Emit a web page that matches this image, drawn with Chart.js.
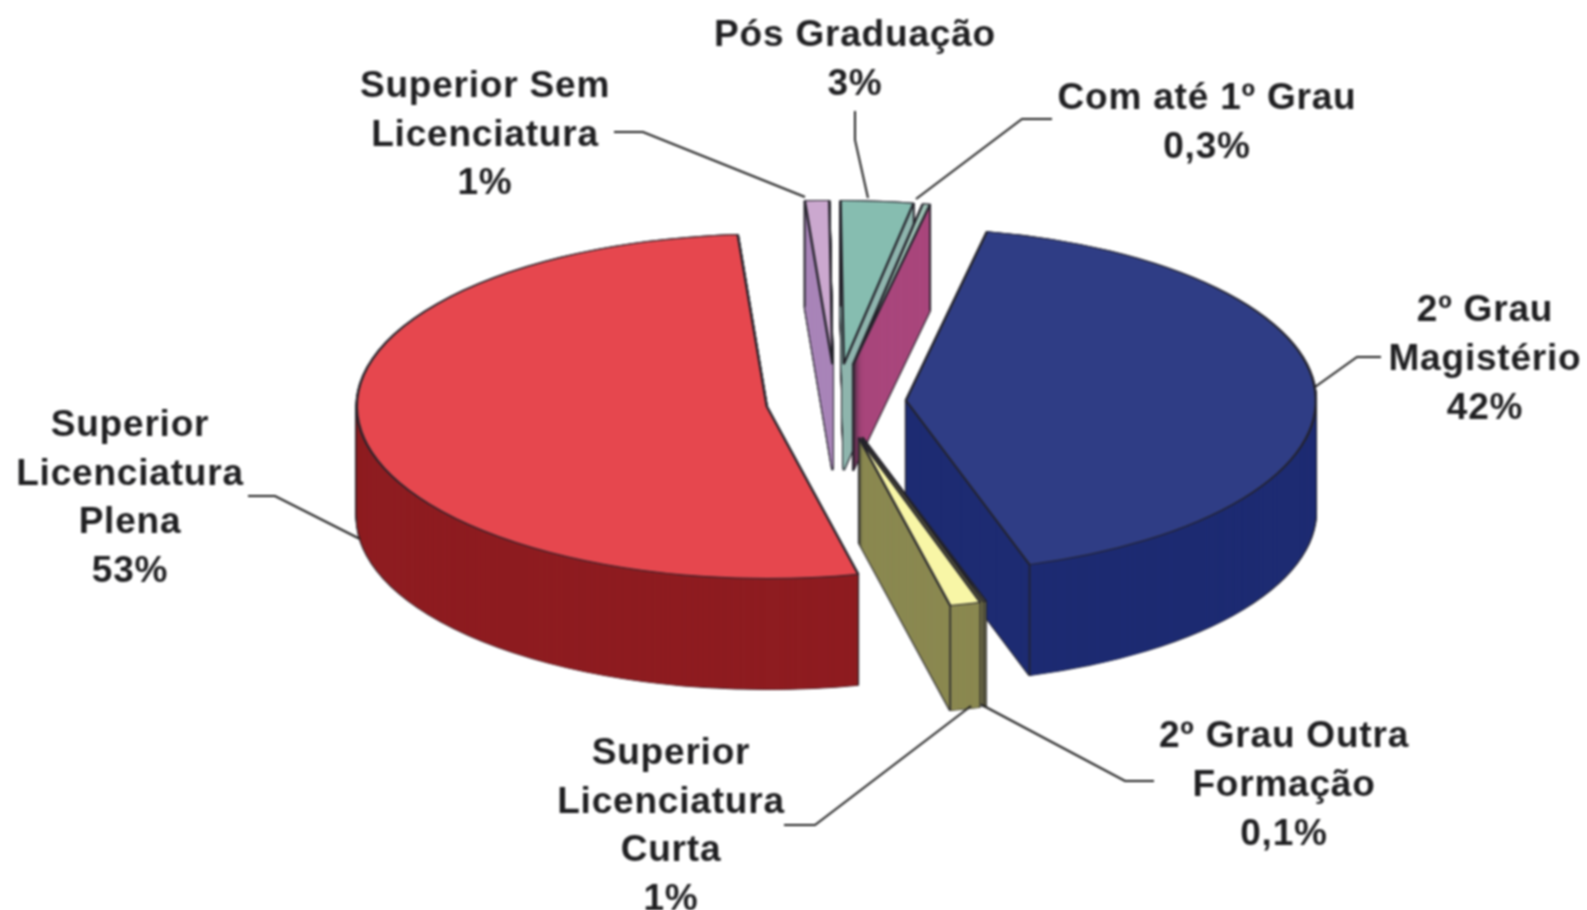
<!DOCTYPE html>
<html>
<head>
<meta charset="utf-8">
<title>Formação dos professores</title>
<script src="https://cdn.jsdelivr.net/npm/chart.js@4/dist/chart.umd.js"></script>
<style>
  html, body { margin: 0; background: #fff; }
  canvas { display: block; filter: blur(0.8px); }
</style>
</head>
<body>
<canvas id="pie" width="1587" height="910"></canvas>
<script>
// clockwise from the top of the pie, starting at the blue slice
const categories = ['2º Grau Magistério', '2º Grau Outra Formação', 'Superior Licenciatura Curta', 'Superior Licenciatura Plena', 'Superior Sem Licenciatura', 'Pós Graduação', 'Com até 1º Grau'];
const values = [42, 0.1, 1.2, 52.5, 1, 3, 0.3]; // as measured on the wedges, the labels are rounded
const valueLabels = ['42%', '0,1%', '1%', '53%', '1%', '3%', '0,3%'];

const topColors = ['#2f3d85', '#f4f0a0', '#f8f6a6', '#e6474e', '#cba8cf', '#86bdb0', '#9cc0b4'];
const sideColors = ['#1d2b72', '#8a8850', '#8a8850', '#8e1c20', '#a985b8', '#8fb5ae', '#a9467c'];
const explode = [70, 88, 88, 70, 90, 90, 90]; // px each slice is pulled out
const rimRadius = [410, 410, 410, 410, 390, 390, 390];
const depths = [111, 105, 105, 111, 106, 106, 106];

const SQUASH = 0.42;
const EDGE = '#23222a';

// label name lines, centre x and first line centre y, line gap
const labelBoxes = [
  { lines: ['2º Grau', 'Magistério'], x: 1485, y: 311, gap: 49 },
  { lines: ['2º Grau Outra', 'Formação'], x: 1284, y: 737, gap: 49 },
  { lines: ['Superior', 'Licenciatura', 'Curta'], x: 671, y: 754, gap: 48.5 },
  { lines: ['Superior', 'Licenciatura', 'Plena'], x: 130, y: 426, gap: 48.5 },
  { lines: ['Superior Sem', 'Licenciatura'], x: 485, y: 87, gap: 48.5 },
  { lines: ['Pós Graduação'], x: 855, y: 36, gap: 49 },
  { lines: ['Com até 1º Grau'], x: 1207, y: 99, gap: 49 }
];
const leaders = [
  [[1381, 357], [1357, 357], [1315, 387]],
  [[1154, 781], [1125, 781], [982, 705]],
  [[784, 825], [815, 825], [971, 706]],
  [[248, 496], [275, 496], [360, 539]],
  [[614, 132], [643, 132], [805, 197]],
  [[855, 111], [855, 140], [868, 198]],
  [[1052, 119], [1022, 119], [916, 199]]
];

let pivotX = 0, pivotY = 0;

function squash(ctx, dy) {
  ctx.translate(pivotX, pivotY + dy);
  ctx.scale(1, SQUASH);
  ctx.translate(-pivotX, -pivotY);
}

function drawFlat(ctx, arc, dy, fill, border) {
  const saved = arc.options;
  arc.options = { ...saved, backgroundColor: fill, borderColor: border || fill, borderWidth: border ? 2.4 : 0 };
  ctx.save();
  squash(ctx, dy);
  arc.draw(ctx);
  ctx.restore();
  arc.options = saved;
}

const pie3d = {
  id: 'pie3d',
  afterDatasetsUpdate(chart) {
    const area = chart.chartArea;
    pivotX = (area.left + area.right) / 2;
    pivotY = (area.top + area.bottom) / 2;
    // pull the slices out here, the offset option changes the wedge shape on thin slices
    chart.getDatasetMeta(0).data.forEach((arc, i) => {
      const m = (arc.startAngle + arc.endAngle) / 2;
      arc.x = pivotX + Math.cos(m) * explode[i];
      arc.y = pivotY + Math.sin(m) * explode[i];
      arc.outerRadius = rimRadius[i];
    });
  },
  beforeDatasetsDraw(chart) {
    const ctx = chart.ctx;
    const arcs = chart.getDatasetMeta(0).data;
    const mid = a => (a.startAngle + a.endAngle) / 2;
    const order = arcs.map((a, i) => i).sort((p, q) => Math.sin(mid(arcs[p])) - Math.sin(mid(arcs[q])));

    order.forEach(i => {
      const arc = arcs[i];
      // outline first, then fill over it so only the silhouette stays dark
      for (let d = depths[i]; d >= 0; d -= 1) drawFlat(ctx, arc, d, sideColors[i], EDGE);
      for (let d = depths[i]; d >= 0; d -= 1) drawFlat(ctx, arc, d, sideColors[i]);

      // vertical edge at the visible wall corners
      ctx.save();
      ctx.strokeStyle = EDGE;
      ctx.lineWidth = 1.5;
      [[arc.startAngle, Math.cos(arc.startAngle) < 0], [arc.endAngle, Math.cos(arc.endAngle) > 0]].forEach(([a, visible]) => {
        if (!visible) return;
        const px = arc.x + Math.cos(a) * rimRadius[i];
        const py = pivotY + (arc.y - pivotY + Math.sin(a) * rimRadius[i]) * SQUASH;
        ctx.beginPath();
        ctx.moveTo(px, py);
        ctx.lineTo(px, py + depths[i]);
        ctx.stroke();
      });
      ctx.restore();
    });

    ctx.save();
    squash(ctx, 0);
  },
  afterDatasetsDraw(chart) {
    chart.ctx.restore();
  },
  afterDraw(chart) {
    const ctx = chart.ctx;
    ctx.save();
    ctx.strokeStyle = '#1f1f1f';
    ctx.lineWidth = 2;
    leaders.forEach(pts => {
      ctx.beginPath();
      pts.forEach((p, i) => (i ? ctx.lineTo(p[0], p[1]) : ctx.moveTo(p[0], p[1])));
      ctx.stroke();
    });
    ctx.fillStyle = '#1f1f21';
    ctx.font = 'bold 37px "Liberation Sans", Arial, sans-serif';
    ctx.letterSpacing = '0.8px';
    ctx.textAlign = 'center';
    ctx.textBaseline = 'middle';
    labelBoxes.forEach((box, i) => {
      [...box.lines, valueLabels[i]].forEach((line, n) => {
        ctx.fillText(line, box.x, box.y + n * box.gap);
      });
    });
    ctx.restore();
  }
};

new Chart(document.getElementById('pie'), {
  type: 'pie',
  data: {
    labels: categories,
    datasets: [{
      data: values,
      backgroundColor: topColors,
      borderColor: EDGE,
      borderWidth: 2.4,
      clip: false
    }]
  },
  options: {
    responsive: false,
    animation: false,
    rotation: 11.4,
    radius: 410,
    layout: { padding: { left: 85, bottom: 106 } },
    events: [],
    plugins: { legend: { display: false }, tooltip: { enabled: false } }
  },
  plugins: [pie3d]
});
</script>
</body>
</html>
